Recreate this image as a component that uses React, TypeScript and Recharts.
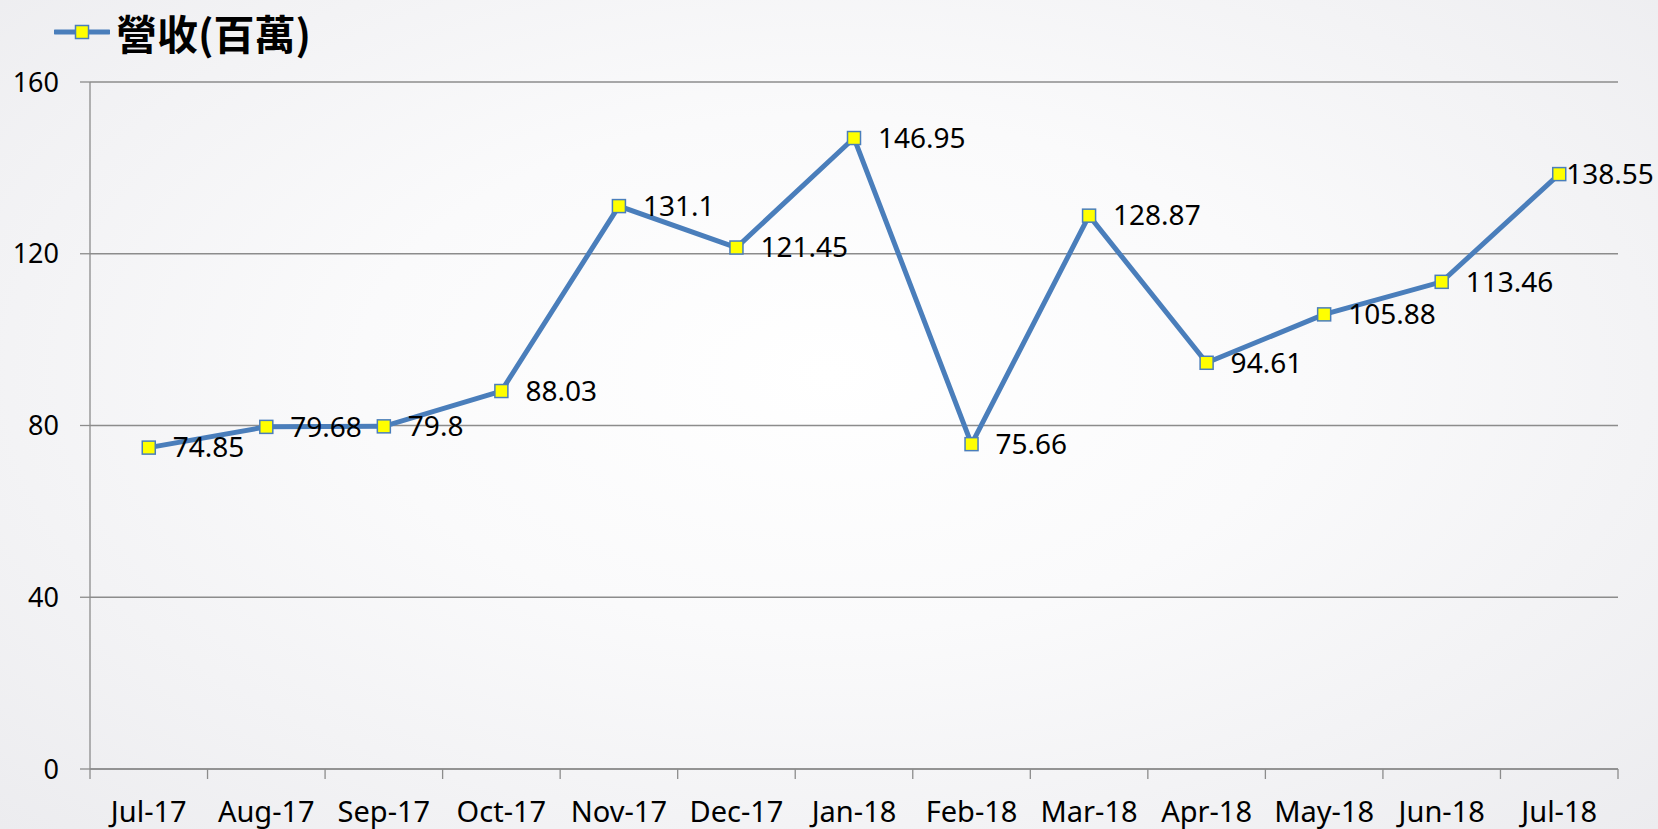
import { CartesianGrid, LabelList, Line, LineChart, XAxis, YAxis } from "recharts";

const months = [
  "Jul-17", "Aug-17", "Sep-17", "Oct-17", "Nov-17", "Dec-17", "Jan-18",
  "Feb-18", "Mar-18", "Apr-18", "May-18", "Jun-18", "Jul-18",
];
const revenue = [
  74.85, 79.68, 79.8, 88.03, 131.1, 121.45, 146.95, 75.66, 128.87, 94.61, 105.88, 113.46, 138.55,
];
const yTicks = [0, 40, 80, 120, 160];
const seriesName = "營收(百萬)";

const data = months.map((m, i) => ({ month: m, value: revenue[i] }));

const LINE = "#4a7ebb";
const GRID = "#8c8c8c";
const FONT = "'Noto Sans', 'Open Sans', sans-serif";
const TICK_LEN = 10;
const TICK_GAP = 22;

// eslint-disable-next-line @typescript-eslint/no-explicit-any
function SquareDot({ cx, cy, index }: any) {
  return (
    <rect
      key={`dot-${index}`}
      x={cx - 6.5}
      y={cy - 6.5}
      width={13}
      height={13}
      fill="#ffff00"
      stroke={LINE}
      strokeWidth={1.5}
    />
  );
}

// category label in the middle, tick marks on the band edges (Excel style)
// eslint-disable-next-line @typescript-eslint/no-explicit-any
function MonthTick({ x, y, payload, index }: any) {
  const half = payload.offset ?? 0;
  const axisY = y - TICK_LEN - TICK_GAP;
  const last = index === months.length - 1;
  return (
    <g>
      <line x1={x - half} y1={axisY} x2={x - half} y2={axisY + TICK_LEN} stroke={GRID} strokeWidth={1.3} />
      {last && (
        <line x1={x + half} y1={axisY} x2={x + half} y2={axisY + TICK_LEN} stroke={GRID} strokeWidth={1.3} />
      )}
      <text x={x} y={y} dy="0.71em" textAnchor="middle" fontSize={29} fontFamily={FONT} fill="#000">
        {payload.value}
      </text>
    </g>
  );
}

// eslint-disable-next-line @typescript-eslint/no-explicit-any
function ValueLabel({ x, y, value, index }: any) {
  // last label gets pushed in against the chart edge, like in the original
  const dx = index === months.length - 1 ? 7 : 24;
  return (
    <text
      x={x + dx}
      y={y}
      dy="0.35em"
      fontSize={28}
      fontFamily={FONT}
      fill="#000"
      textAnchor="start"
    >
      {value}
    </text>
  );
}

export default function App() {
  return (
    <div
      style={{
        position: "absolute",
        left: 0,
        top: 0,
        width: 1658,
        height: 829,
        background:
          "radial-gradient(ellipse at 50% 45%, #ffffff 0%, #fafafb 40%, #ececef 100%)",
        fontFamily: FONT,
        overflow: "hidden",
      }}
    >
      <div
        style={{
          position: "absolute",
          left: 54,
          top: 8,
          display: "flex",
          alignItems: "center",
          height: 48,
        }}
      >
        <svg width={56} height={20}>
          <line x1={1} y1={10} x2={55} y2={10} stroke={LINE} strokeWidth={5} strokeLinecap="round" />
          <rect x={21.5} y={3.5} width={13} height={13} fill="#ffff00" stroke={LINE} strokeWidth={1.5} />
        </svg>
        <span
          style={{
            marginLeft: 6,
            fontSize: 41,
            fontWeight: 700,
            fontFamily: "'Noto Sans CJK TC', 'Noto Sans', sans-serif",
            color: "#000",
            lineHeight: 1,
          }}
        >
          {seriesName}
        </span>
      </div>
      <LineChart
        width={1658}
        height={829}
        data={data}
        margin={{ top: 82, right: 40, left: 0, bottom: 0 }}
      >
        <CartesianGrid horizontal vertical={false} stroke={GRID} strokeWidth={1.3} />
        <XAxis
          dataKey="month"
          scale="band"
          height={60}
          tickSize={TICK_LEN}
          tickMargin={TICK_GAP}
          tickLine={false}
          axisLine={{ stroke: GRID, strokeWidth: 1.3 }}
          tick={MonthTick}
          interval={0}
        />
        <YAxis
          width={90}
          domain={[0, 160]}
          ticks={yTicks}
          tickSize={10}
          tickMargin={21}
          tickLine={{ stroke: GRID, strokeWidth: 1.3 }}
          axisLine={{ stroke: GRID, strokeWidth: 1.3 }}
          tick={{ fontSize: 27, fill: "#000", fontFamily: FONT }}
        />
        <Line
          type="linear"
          dataKey="value"
          name={seriesName}
          stroke={LINE}
          strokeWidth={5}
          dot={SquareDot}
          activeDot={false}
          isAnimationActive={false}
        >
          <LabelList dataKey="value" content={ValueLabel} />
        </Line>
      </LineChart>
    </div>
  );
}
